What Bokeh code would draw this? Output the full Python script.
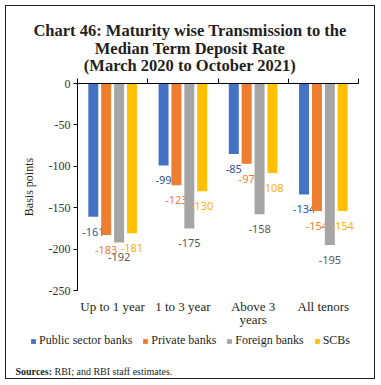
from bokeh.plotting import figure
from bokeh.models import (Range1d, LinearAxis, FixedTicker, Legend,
                          LegendItem, ColumnDataSource, Label)
from bokeh.transform import dodge
from bokeh.core.properties import value
from bokeh.embed import file_html
from bokeh.resources import INLINE

# ---- data ----
categories = ["Up to 1 year", "1 to 3 year", "Above 3\nyears", "All tenors"]
series_names = ["Public sector banks", "Private banks", "Foreign banks", "SCBs"]
public_sector = [-161, -99, -85, -134]
private_banks = [-183, -123, -97, -154]
foreign_banks = [-192, -175, -158, -195]
scbs = [-181, -130, -108, -154]
y_ticks = [-250, -200, -150, -100, -50, 0]
y_min, y_max = -250, 0

title_lines = ["Chart 46: Maturity wise Transmission to the",
               "Median Term Deposit Rate",
               "(March 2020 to October 2021)"]
source_bold = "Sources:"
source_text = "RBI; and RBI staff estimates."

# ---- styles / layout (canvas pixels) ----
bar_colors = ["#4472C4", "#ED7D31", "#A5A5A5", "#FFC000"]
label_colors = ["#2F5597", "#ED7D31", "#595959", "#FFB000"]
offsets = [-0.275, -0.092, 0.092, 0.275]
bar_width = 0.142
SERIF = "Liberation Serif"
SANS = "Noto Sans"
INK = "#231F20"
W, H = 370, 374
PLOT_L, PLOT_R, PLOT_T, PLOT_B = 71, 352, 77, 284   # where the axes sit

n = len(categories)
ppx = (PLOT_R - PLOT_L) / n
ppy = (PLOT_B - PLOT_T) / (y_max - y_min)
x_range = Range1d(-PLOT_L / ppx, n + (W - PLOT_R) / ppx)
y_range = Range1d(y_min - (H - PLOT_B) / ppy, y_max + PLOT_T / ppy)

p = figure(width=W, height=H, output_backend="svg", toolbar_location=None,
           x_range=x_range, y_range=y_range, min_border=0,
           x_axis_location=None, y_axis_location=None,
           margin=(5, 0, 0, 5), styles={"border": "1px solid #231F20"})
p.outline_line_color = None
p.xgrid.visible = False
p.ygrid.visible = False

xc = [i + 0.5 for i in range(n)]
all_series = [public_sector, private_banks, foreign_banks, scbs]

renderers = []
for vals, col, lcol, off in zip(all_series, bar_colors, label_colors, offsets):
    src = ColumnDataSource(dict(x=xc, val=vals, lbl=[str(v) for v in vals]))
    r = p.vbar(x=dodge("x", off, range=p.x_range), top=0, bottom="val",
               width=bar_width, source=src, fill_color=col, line_color=None)
    renderers.append(r)
    p.text(x=dodge("x", off, range=p.x_range), y="val", text="lbl", source=src,
           y_offset=15, text_align="center", text_baseline="middle",
           text_font=value(SANS), text_font_size="11px", text_color=lcol)

# y axis (drawn at x = 0, limited to the value range)
yaxis = LinearAxis(ticker=FixedTicker(ticks=y_ticks), axis_label="Basis points",
                   major_label_overrides={t: str(t) for t in y_ticks},
                   fixed_location=0, bounds=(y_min, y_max))
yaxis.axis_line_color = "black"
yaxis.major_tick_line_color = "black"
yaxis.major_tick_out = 4
yaxis.major_tick_in = 0
yaxis.minor_tick_line_color = None
yaxis.major_label_text_font = SERIF
yaxis.major_label_text_font_size = "12px"
yaxis.major_label_text_color = "#333333"
yaxis.major_label_standoff = 3
yaxis.axis_label_text_font = SERIF
yaxis.axis_label_text_font_style = "normal"
yaxis.axis_label_text_font_size = "12px"
yaxis.axis_label_text_color = INK
yaxis.axis_label_standoff = 10
p.add_layout(yaxis, "left")

# zero line with category boundary ticks
topaxis = LinearAxis(ticker=FixedTicker(ticks=list(range(n + 1))),
                     fixed_location=0, bounds=(0, n))
topaxis.axis_line_color = "black"
topaxis.major_tick_line_color = "black"
topaxis.major_tick_out = 5
topaxis.major_tick_in = 0
topaxis.minor_tick_line_color = None
topaxis.major_label_text_color = None
topaxis.major_label_text_font_size = "1px"
topaxis.major_label_standoff = 0
p.add_layout(topaxis, "above")

# category labels under the value range
botaxis = LinearAxis(ticker=FixedTicker(ticks=xc),
                     major_label_overrides={x: c for x, c in zip(xc, categories)},
                     fixed_location=y_min, bounds=(0, n))
botaxis.axis_line_color = None
botaxis.major_tick_line_color = None
botaxis.minor_tick_line_color = None
botaxis.major_tick_out = 0
botaxis.major_tick_in = 0
botaxis.major_label_text_font = SERIF
botaxis.major_label_text_font_size = "13px"
botaxis.major_label_text_line_height = 0.92
botaxis.major_label_text_color = INK
botaxis.major_label_standoff = 8
p.add_layout(botaxis, "below")

# legend
legend = Legend(items=[LegendItem(label=s, renderers=[r]) for s, r in zip(series_names, renderers)],
                orientation="horizontal", location=(24, 32),
                glyph_width=6, glyph_height=6, label_standoff=3, spacing=10,
                label_height=14, padding=0, margin=0, border_line_color=None,
                background_fill_alpha=0,
                label_text_font=SERIF, label_text_font_size="12px",
                label_text_color=INK)
p.add_layout(legend, "center")

# title lines (screen px from the bottom-left of the canvas)
for txt, yy in zip(title_lines, [350, 332, 315.5]):
    p.add_layout(Label(x=183.5, y=yy, x_units="screen", y_units="screen", text=txt,
                       text_align="center", text_baseline="alphabetic",
                       text_font=SERIF, text_font_style="bold",
                       text_font_size="16.5px", text_color=INK))

# sources
p.add_layout(Label(x=9, y=9, x_units="screen", y_units="screen", text=source_bold,
                   text_align="left", text_baseline="alphabetic", text_font=SERIF,
                   text_font_style="bold", text_font_size="10px", text_color=INK))
p.add_layout(Label(x=48, y=9, x_units="screen", y_units="screen", text=source_text,
                   text_align="left", text_baseline="alphabetic", text_font=SERIF,
                   text_font_size="10px", text_color=INK))

open("out.html", "w").write(file_html(p, INLINE))
